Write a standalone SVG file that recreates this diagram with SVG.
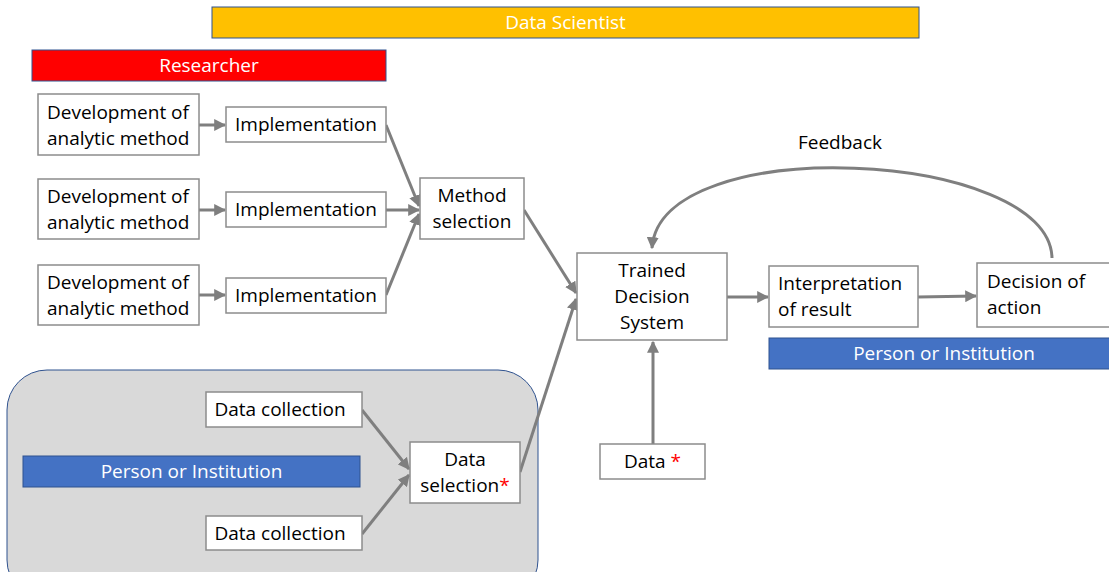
<svg xmlns="http://www.w3.org/2000/svg" width="1109" height="572" viewBox="0 0 1109 572">
  <style>
    .box { fill: #ffffff; stroke: #8c8c8c; stroke-width: 1.5; }
    .bar { stroke: #2f528f; stroke-width: 1; }
    .lbl { font-family: "Open Sans", "Liberation Sans", sans-serif; font-size: 19px; fill: #000000; }
    .hdr { font-family: "Open Sans", "Liberation Sans", sans-serif; font-size: 19px; fill: #ffffff; text-anchor: middle; }
    .c { text-anchor: middle; }
    .star { fill: #ff0000; }
    .edge { fill: none; stroke: #7f7f7f; stroke-width: 3; marker-end: url(#arrow); }
  </style>
  <defs>
    <marker id="arrow" viewBox="0 0 10 10" refX="9" refY="5" markerWidth="4" markerHeight="4" orient="auto" markerUnits="strokeWidth">
      <path d="M0,0 L10,5 L0,10 z" fill="#7f7f7f"/>
    </marker>
  </defs>

  <rect width="1109" height="572" fill="#ffffff"/>

  <!-- Role bars -->
  <g id="data-scientist">
    <rect class="bar" x="212" y="7" width="707" height="31" fill="#ffc000"/>
    <text class="hdr" x="565.5" y="29">Data Scientist</text>
  </g>
  <g id="researcher">
    <rect class="bar" x="32" y="50" width="354" height="31" fill="#ff0000"/>
    <text class="hdr" x="209" y="72">Researcher</text>
  </g>

  <!-- Data provider region -->
  <g id="data-region">
    <rect x="7" y="370" width="531" height="230" rx="40" ry="40" fill="#d9d9d9" stroke="#2f528f" stroke-width="1"/>
  </g>
  <g id="person-left">
    <rect class="bar" x="23" y="456" width="337" height="31" fill="#4472c4"/>
    <text class="hdr" x="191.5" y="478">Person or Institution</text>
  </g>
  <g id="person-right">
    <rect class="bar" x="769" y="338" width="345" height="31" fill="#4472c4"/>
    <text class="hdr" x="944" y="360">Person or Institution</text>
  </g>

  <!-- Connectors -->
  <g id="connectors">
    <line class="edge" x1="199" y1="125" x2="225" y2="125"/>
    <line class="edge" x1="199" y1="210" x2="225" y2="210"/>
    <line class="edge" x1="199" y1="295" x2="225" y2="295"/>
    <line class="edge" x1="386" y1="125" x2="419" y2="206"/>
    <line class="edge" x1="386" y1="210" x2="419" y2="210"/>
    <line class="edge" x1="386" y1="295" x2="419" y2="214"/>
    <line class="edge" x1="524" y1="210" x2="576" y2="293"/>
    <line class="edge" x1="520" y1="472" x2="576" y2="299"/>
    <line class="edge" x1="362" y1="410" x2="409" y2="469"/>
    <line class="edge" x1="362" y1="534" x2="409" y2="475"/>
    <line class="edge" x1="653" y1="444" x2="653" y2="342"/>
    <line class="edge" x1="727" y1="297" x2="768" y2="297"/>
    <line class="edge" x1="918" y1="297" x2="976" y2="296"/>
    <path class="edge" d="M1052,258 C1050,150 660,130 652,248"/>
  </g>

  <!-- Method pipeline -->
  <g id="dev1">
    <rect class="box" x="38" y="94" width="161" height="61"/>
    <text class="lbl" x="47" y="119">Development of</text>
    <text class="lbl" x="47" y="145">analytic method</text>
  </g>
  <g id="dev2">
    <rect class="box" x="38" y="179" width="161" height="60"/>
    <text class="lbl" x="47" y="203">Development of</text>
    <text class="lbl" x="47" y="229">analytic method</text>
  </g>
  <g id="dev3">
    <rect class="box" x="38" y="265" width="161" height="60"/>
    <text class="lbl" x="47" y="289">Development of</text>
    <text class="lbl" x="47" y="315">analytic method</text>
  </g>
  <g id="impl1">
    <rect class="box" x="226" y="107" width="160" height="35"/>
    <text class="lbl c" x="306" y="131">Implementation</text>
  </g>
  <g id="impl2">
    <rect class="box" x="226" y="192" width="160" height="35"/>
    <text class="lbl c" x="306" y="216">Implementation</text>
  </g>
  <g id="impl3">
    <rect class="box" x="226" y="278" width="160" height="35"/>
    <text class="lbl c" x="306" y="302">Implementation</text>
  </g>
  <g id="method-selection">
    <rect class="box" x="420" y="178" width="104" height="61"/>
    <text class="lbl c" x="472" y="202">Method</text>
    <text class="lbl c" x="472" y="228">selection</text>
  </g>

  <!-- Data pipeline -->
  <g id="data-collection1">
    <rect class="box" x="206" y="392" width="156" height="35"/>
    <text class="lbl c" x="280" y="416">Data collection</text>
  </g>
  <g id="data-collection2">
    <rect class="box" x="206" y="516" width="156" height="34"/>
    <text class="lbl c" x="280" y="540">Data collection</text>
  </g>
  <g id="data-selection">
    <rect class="box" x="410" y="442" width="110" height="61"/>
    <text class="lbl c" x="465" y="466">Data</text>
    <text class="lbl c" x="465" y="492">selection<tspan class="star">*</tspan></text>
  </g>

  <!-- Decision system -->
  <g id="trained-system">
    <rect class="box" x="577" y="253" width="150" height="87"/>
    <text class="lbl c" x="652" y="277">Trained</text>
    <text class="lbl c" x="652" y="303">Decision</text>
    <text class="lbl c" x="652" y="329">System</text>
  </g>
  <g id="data">
    <rect class="box" x="600" y="444" width="105" height="35"/>
    <text class="lbl" x="624" y="468">Data <tspan class="star">*</tspan></text>
  </g>
  <g id="interpretation">
    <rect class="box" x="769" y="266" width="149" height="61"/>
    <text class="lbl" x="778" y="290">Interpretation</text>
    <text class="lbl" x="778" y="316">of result</text>
  </g>
  <g id="decision">
    <rect class="box" x="977" y="263" width="140" height="64"/>
    <text class="lbl" x="987" y="288">Decision of</text>
    <text class="lbl" x="987" y="314">action</text>
  </g>
  <g id="feedback-label">
    <text class="lbl c" x="840" y="149">Feedback</text>
  </g>
</svg>
